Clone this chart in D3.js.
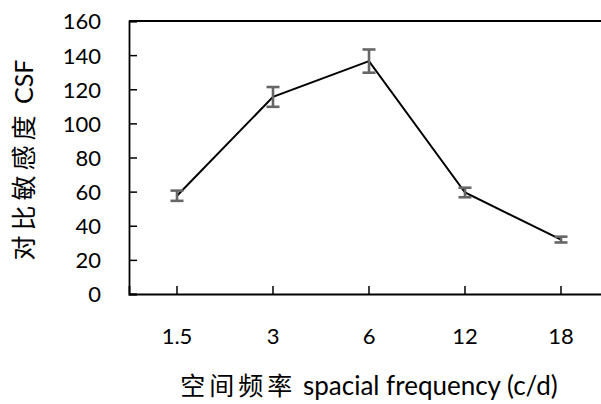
<!DOCTYPE html>
<html>
<head>
<meta charset="utf-8">
<script src="https://cdn.jsdelivr.net/npm/d3@7"></script>
<style>
  body { margin: 0; background: #fff; }
  text { font-family: Lato, "Noto Sans CJK SC", sans-serif; fill: #000; }
</style>
</head>
<body>
<svg id="chart" width="601" height="404"></svg>
<script>
// Contrast sensitivity vs spatial frequency
const frequencies = ["1.5", "3", "6", "12", "18"];
const csfValues = [57.6, 115.5, 136.5, 59.5, 31.9];
const csfErrors = [3.0, 5.8, 6.8, 2.8, 1.7];
const yTicks = [0, 20, 40, 60, 80, 100, 120, 140, 160];

const width = 601, height = 404;
const margin = { top: 21, right: -8, bottom: 110, left: 129 };

const svg = d3.select("#chart");

const x = d3.scaleBand()
  .domain(frequencies)
  .range([margin.left, width - margin.right]);

const y = d3.scaleLinear()
  .domain([0, 160])
  .range([height - margin.bottom, margin.top]);

// plot frame top line
svg.append("line")
  .attr("x1", margin.left).attr("x2", width)
  .attr("y1", y(160)).attr("y2", y(160))
  .attr("stroke", "#000").attr("stroke-width", 1.8);

// y axis, ticks pointing inward
const yAxis = svg.append("g")
  .attr("transform", "translate(" + margin.left + ",0)")
  .call(d3.axisLeft(y).tickValues(yTicks).tickSize(-8).tickPadding(28));
yAxis.select(".domain").attr("stroke-width", 1.8);
yAxis.selectAll(".tick line").attr("stroke-width", 1.5);
yAxis.selectAll("text").style("font-size", "22px").attr("dy", "0.36em");

// x axis
const xAxis = svg.append("g")
  .attr("transform", "translate(0," + y(0) + ")")
  .call(d3.axisBottom(x).tickSize(-8).tickPadding(34));
xAxis.select(".domain").attr("stroke-width", 1.8);
xAxis.selectAll(".tick line").attr("stroke-width", 1.5);
xAxis.selectAll("text").style("font-size", "22px");

const cx = function (d, i) { return x(frequencies[i]) + x.bandwidth() / 2; };

// line
svg.append("path")
  .datum(csfValues)
  .attr("fill", "none")
  .attr("stroke", "#000")
  .attr("stroke-width", 2)
  .attr("d", d3.line().x(cx).y(function (d) { return y(d); }));

// error bars
const err = svg.append("g").attr("stroke", "#666").attr("stroke-width", 2.6);
csfValues.forEach(function (v, i) {
  const px = cx(v, i);
  const e = csfErrors[i];
  err.append("line").attr("x1", px).attr("x2", px).attr("y1", y(v - e)).attr("y2", y(v + e));
  err.append("line").attr("x1", px - 6.5).attr("x2", px + 6.5).attr("y1", y(v + e)).attr("y2", y(v + e));
  err.append("line").attr("x1", px - 6.5).attr("x2", px + 6.5).attr("y1", y(v - e)).attr("y2", y(v - e));
});

// axis titles: CJK part a bit wider spaced, like the original font
const xTitle = svg.append("text")
  .attr("x", 369).attr("y", 395)
  .attr("text-anchor", "middle");
xTitle.append("tspan").style("font-size", "25px").style("letter-spacing", "4px").text("空间频率");
xTitle.append("tspan").style("font-size", "26px").text(" spacial frequency (c/d)");

const yTitle = svg.append("text")
  .attr("transform", "translate(33,160) rotate(-90)")
  .attr("text-anchor", "middle");
yTitle.append("tspan").style("font-size", "25px").style("letter-spacing", "5px").text("对比敏感度");
yTitle.append("tspan").style("font-size", "25px").text(" CSF");
</script>
</body>
</html>
